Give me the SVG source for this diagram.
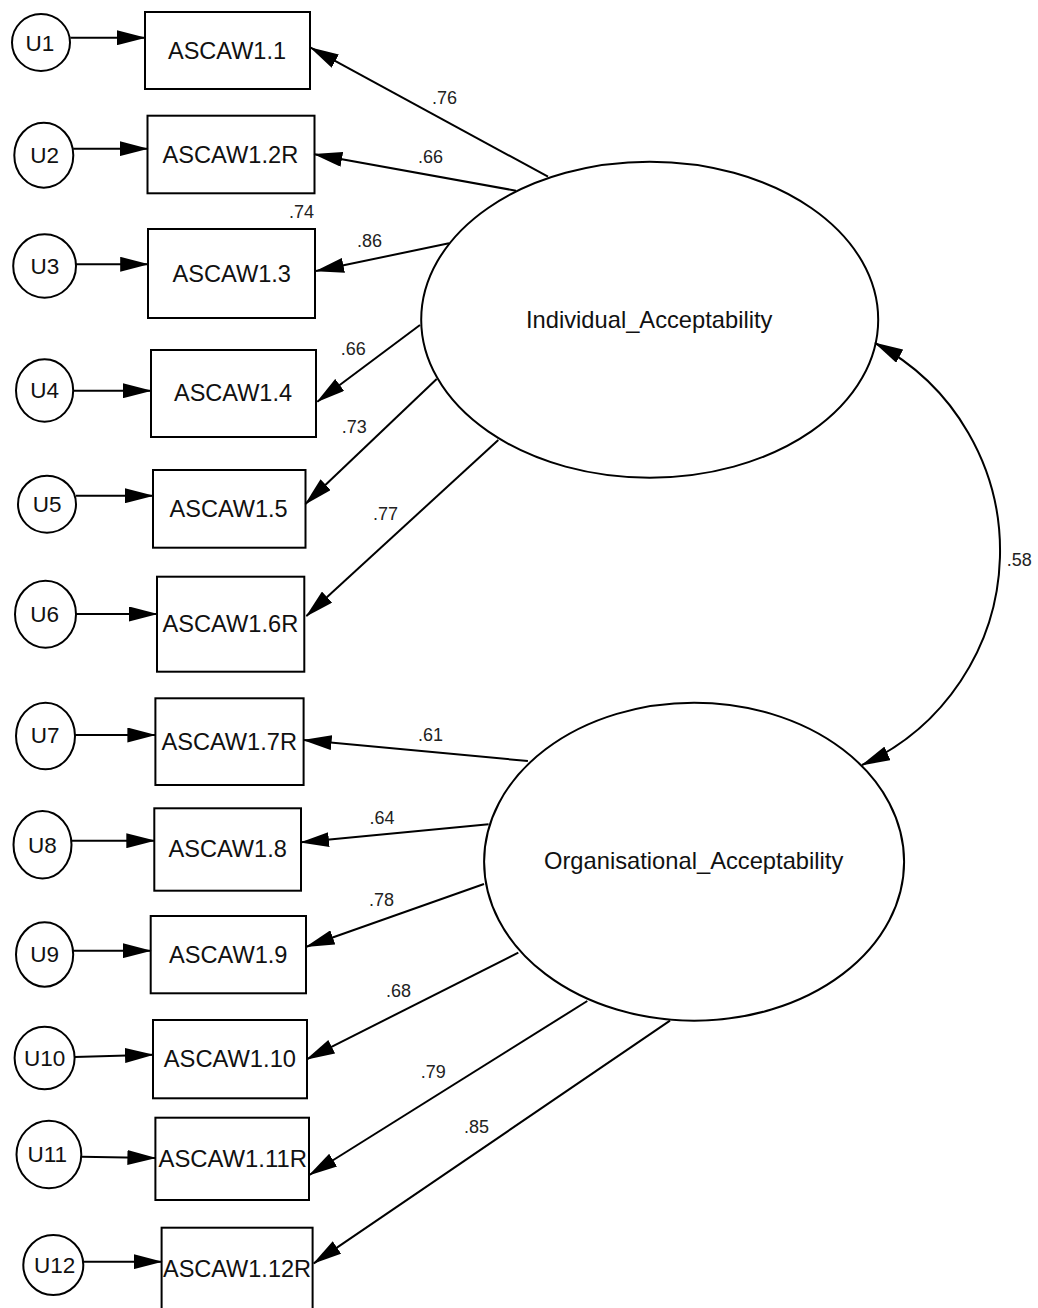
<svg xmlns="http://www.w3.org/2000/svg" width="1038" height="1308" viewBox="0 0 1038 1308">
<style>
.box{fill:#fff;stroke:#000;stroke-width:2}
.err{fill:#fff;stroke:#000;stroke-width:2}
.lat{fill:#fff;stroke:#000;stroke-width:2}
.t{font-family:"Liberation Sans",Arial,sans-serif;font-size:24px;fill:#111}
.u{font-family:"Liberation Sans",Arial,sans-serif;font-size:22.5px;fill:#111;text-anchor:middle}
.l{font-family:"Liberation Sans",Arial,sans-serif;font-size:18px;fill:#222}
.c{fill:none;stroke:#000;stroke-width:2;marker-end:url(#ah)}
.cov{fill:none;stroke:#000;stroke-width:2;marker-start:url(#ah);marker-end:url(#ah)}
</style>
<defs>
<marker id="ah" markerUnits="userSpaceOnUse" viewBox="0 0 29 15" refX="28" refY="7.5" markerWidth="29" markerHeight="15" orient="auto-start-reverse">
<path d="M0,0 L29,7.5 L0,15 z" fill="#000"/>
</marker>
</defs>
<rect width="1038" height="1308" fill="#fff"/>

<g id="Individual_Acceptability"><ellipse class="lat" cx="649.7" cy="319.7" rx="228.5" ry="158"/><text class="t" x="526" y="328.3" textLength="246.4" lengthAdjust="spacingAndGlyphs">Individual_Acceptability</text></g>
<g id="Organisational_Acceptability"><ellipse class="lat" cx="694.1" cy="861.7" rx="210" ry="159"/><text class="t" x="544" y="869.3" textLength="299.3" lengthAdjust="spacingAndGlyphs">Organisational_Acceptability</text></g>

<g id="ASCAW1.1"><rect class="box" x="145" y="12" width="165" height="77"/><text class="t" x="168" y="59" textLength="118" lengthAdjust="spacingAndGlyphs">ASCAW1.1</text></g>
<g id="ASCAW1.2R"><rect class="box" x="147.5" y="115.7" width="167" height="77.6"/><text class="t" x="162.5" y="162.7" textLength="135.7" lengthAdjust="spacingAndGlyphs">ASCAW1.2R</text></g>
<g id="ASCAW1.3"><rect class="box" x="148" y="229" width="167" height="89"/><text class="t" x="172.5" y="281.7" textLength="118.5" lengthAdjust="spacingAndGlyphs">ASCAW1.3</text></g>
<g id="ASCAW1.4"><rect class="box" x="151" y="350" width="165" height="87"/><text class="t" x="174" y="401" textLength="118" lengthAdjust="spacingAndGlyphs">ASCAW1.4</text></g>
<g id="ASCAW1.5"><rect class="box" x="153" y="470" width="152.5" height="77.7"/><text class="t" x="169.6" y="516.7" textLength="118" lengthAdjust="spacingAndGlyphs">ASCAW1.5</text></g>
<g id="ASCAW1.6R"><rect class="box" x="157" y="576.7" width="147.3" height="95"/><text class="t" x="162.5" y="631.7" textLength="135.7" lengthAdjust="spacingAndGlyphs">ASCAW1.6R</text></g>
<g id="ASCAW1.7R"><rect class="box" x="155.4" y="698.3" width="148.2" height="86.7"/><text class="t" x="161.4" y="750" textLength="135.6" lengthAdjust="spacingAndGlyphs">ASCAW1.7R</text></g>
<g id="ASCAW1.8"><rect class="box" x="154.3" y="808.3" width="146.7" height="82.4"/><text class="t" x="168.6" y="856.7" textLength="118.2" lengthAdjust="spacingAndGlyphs">ASCAW1.8</text></g>
<g id="ASCAW1.9"><rect class="box" x="150.7" y="916" width="155.3" height="77.3"/><text class="t" x="169" y="962.7" textLength="118.5" lengthAdjust="spacingAndGlyphs">ASCAW1.9</text></g>
<g id="ASCAW1.10"><rect class="box" x="153" y="1020" width="154" height="78.3"/><text class="t" x="163.8" y="1066.7" textLength="132.2" lengthAdjust="spacingAndGlyphs">ASCAW1.10</text></g>
<g id="ASCAW1.11R"><rect class="box" x="155.4" y="1117.7" width="153.6" height="82.3"/><text class="t" x="158.5" y="1166.7" textLength="148.5" lengthAdjust="spacingAndGlyphs">ASCAW1.11R</text></g>
<g id="ASCAW1.12R"><rect class="box" x="161.6" y="1227.7" width="151" height="100"/><text class="t" x="163" y="1276.7" textLength="148" lengthAdjust="spacingAndGlyphs">ASCAW1.12R</text></g>

<g id="U1"><ellipse class="err" cx="41" cy="42.5" rx="29" ry="28.5"/><text class="u" x="40" y="50.7">U1</text></g>
<g id="U2"><ellipse class="err" cx="43.8" cy="155.2" rx="29.5" ry="32.5"/><text class="u" x="44.6" y="163.3">U2</text></g>
<g id="U3"><ellipse class="err" cx="44.6" cy="266" rx="31.4" ry="31.7"/><text class="u" x="45" y="274">U3</text></g>
<g id="U4"><ellipse class="err" cx="44.6" cy="390.5" rx="28.6" ry="31.2"/><text class="u" x="44.6" y="398.3">U4</text></g>
<g id="U5"><ellipse class="err" cx="47" cy="504.2" rx="29" ry="28.5"/><text class="u" x="47.1" y="511.7">U5</text></g>
<g id="U6"><ellipse class="err" cx="45.5" cy="614.2" rx="30.5" ry="33.5"/><text class="u" x="44.6" y="621.7">U6</text></g>
<g id="U7"><ellipse class="err" cx="45.5" cy="736" rx="29.5" ry="33.3"/><text class="u" x="45.2" y="743.3">U7</text></g>
<g id="U8"><ellipse class="err" cx="42.5" cy="844.7" rx="29" ry="33.7"/><text class="u" x="42.5" y="852.7">U8</text></g>
<g id="U9"><ellipse class="err" cx="44.6" cy="954.5" rx="28.6" ry="32.2"/><text class="u" x="44.6" y="961.7">U9</text></g>
<g id="U10"><ellipse class="err" cx="44.6" cy="1058" rx="30" ry="31.3"/><text class="u" x="44.6" y="1066">U10</text></g>
<g id="U11"><ellipse class="err" cx="48.9" cy="1154.5" rx="32.4" ry="33.8"/><text class="u" x="47.3" y="1161.7">U11</text></g>
<g id="U12"><ellipse class="err" cx="53.3" cy="1265" rx="30" ry="30"/><text class="u" x="54.7" y="1273.3">U12</text></g>

<g id="connectors">
<line class="c" x1="70.4" y1="37.7" x2="145" y2="37.7"/>
<line class="c" x1="73.2" y1="148.7" x2="147.5" y2="148.7"/>
<line class="c" x1="76" y1="264.3" x2="148.2" y2="264.3"/>
<line class="c" x1="73.2" y1="390.7" x2="151" y2="390.7"/>
<line class="c" x1="76" y1="495.7" x2="153" y2="495.7"/>
<line class="c" x1="76" y1="614" x2="157" y2="614"/>
<line class="c" x1="75" y1="735" x2="155.4" y2="735"/>
<line class="c" x1="71.4" y1="840.7" x2="154.3" y2="840.7"/>
<line class="c" x1="73" y1="950.7" x2="150.7" y2="950.7"/>
<line class="c" x1="74.6" y1="1057" x2="153" y2="1054.7"/>
<line class="c" x1="81.3" y1="1156.7" x2="155.4" y2="1158"/>
<line class="c" x1="83.5" y1="1261.7" x2="161.6" y2="1261.7"/>

<line class="c" x1="548" y1="176.7" x2="310.7" y2="47.7"/>
<line class="c" x1="516" y1="190.7" x2="314.3" y2="154.3"/>
<line class="c" x1="449" y1="243.3" x2="316" y2="271"/>
<line class="c" x1="420" y1="325" x2="317.3" y2="401.7"/>
<line class="c" x1="436.7" y1="379" x2="305.4" y2="504"/>
<line class="c" x1="498.3" y1="440" x2="306.4" y2="616"/>
<line class="c" x1="527.9" y1="761" x2="303.6" y2="740"/>
<line class="c" x1="488.6" y1="824.3" x2="301" y2="842.3"/>
<line class="c" x1="484" y1="884" x2="306.4" y2="946.7"/>
<line class="c" x1="518.3" y1="952.7" x2="306.7" y2="1059.3"/>
<line class="c" x1="587.3" y1="1001" x2="309.4" y2="1175"/>
<line class="c" x1="670" y1="1020.7" x2="313.8" y2="1263.3"/>

<path class="cov" d="M875,343 A235.2,235.2 0 0 1 862,765"/>

<text class="l" x="432" y="104">.76</text>
<text class="l" x="418" y="163">.66</text>
<text class="l" x="289" y="218">.74</text>
<text class="l" x="357" y="247">.86</text>
<text class="l" x="340.7" y="355">.66</text>
<text class="l" x="341.7" y="433.3">.73</text>
<text class="l" x="373" y="520">.77</text>
<text class="l" x="418" y="740.7">.61</text>
<text class="l" x="369.6" y="824.3">.64</text>
<text class="l" x="369" y="906">.78</text>
<text class="l" x="386" y="997.3">.68</text>
<text class="l" x="420.7" y="1078.3">.79</text>
<text class="l" x="464" y="1133.3">.85</text>
<text class="l" x="1006.7" y="566">.58</text>
</g>
</svg>
